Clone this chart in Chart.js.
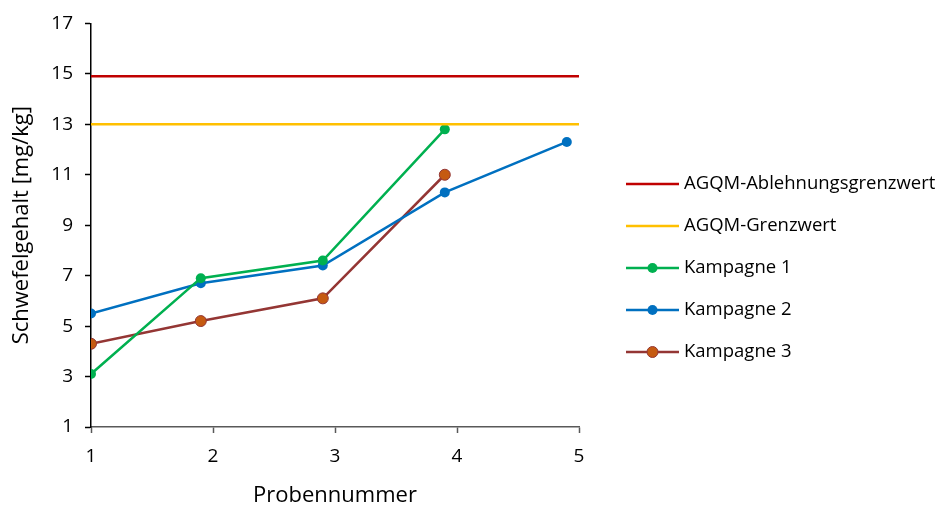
<!DOCTYPE html>
<html><head><meta charset="utf-8">
<script src="https://cdn.jsdelivr.net/npm/chart.js@4"></script>
<style>html,body{margin:0;padding:0;background:#fff}#wrap{width:941px;height:510px}</style>
</head><body><div id="wrap"><canvas id="c" width="941" height="510"></canvas></div>
<script>
const sampleNumbers1 = [1, 1.9, 2.9, 3.9];
const kampagne1 = [3.1, 6.9, 7.6, 12.8];
const sampleNumbers2 = [1, 1.9, 2.9, 3.9, 4.9];
const kampagne2 = [5.5, 6.7, 7.4, 10.3, 12.3];
const sampleNumbers3 = [1, 1.9, 2.9, 3.9];
const kampagne3 = [4.3, 5.2, 6.1, 11.0];
const limitX = [1, 5];
const ablehnungsgrenzwert = 14.9;
const grenzwert = 13;
const seriesNames = ['AGQM-Ablehnungsgrenzwert', 'AGQM-Grenzwert', 'Kampagne 1', 'Kampagne 2', 'Kampagne 3'];
const xTicks = [1, 2, 3, 4, 5];
const yTicks = [1, 3, 5, 7, 9, 11, 13, 15, 17];

const FONT = "'Open Sans', sans-serif";
const pts = (xs, ys) => xs.map((x, i) => ({x: x, y: ys[i]}));

const legendPlugin = {
  id: 'customLegend',
  afterDraw(chart) {
    const ctx = chart.ctx;
    const x0 = 626, x1 = 679, tx = 684;
    const ys = [184, 226, 268, 310, 352];
    chart.data.datasets.forEach((ds, i) => {
      const y = ys[i];
      ctx.save();
      ctx.strokeStyle = ds.borderColor;
      ctx.lineWidth = 2.5;
      ctx.beginPath(); ctx.moveTo(x0, y); ctx.lineTo(x1, y); ctx.stroke();
      if (ds.pointRadius > 0) {
        ctx.beginPath();
        ctx.arc((x0 + x1) / 2, y, ds.pointRadius, 0, Math.PI * 2);
        ctx.fillStyle = ds.pointBackgroundColor;
        ctx.fill();
        if (ds.pointBorderWidth > 0) {
          ctx.lineWidth = ds.pointBorderWidth;
          ctx.strokeStyle = ds.pointBorderColor;
          ctx.stroke();
        }
      }
      ctx.fillStyle = '#000';
      ctx.font = "18.5px " + FONT;
      ctx.textBaseline = 'middle';
      ctx.textAlign = 'left';
      ctx.fillText(ds.label, tx, y);
      ctx.restore();
    });
  }
};

new Chart(document.getElementById('c'), {
  type: 'line',
  data: {
    datasets: [
      {label: seriesNames[0], data: pts(limitX, [ablehnungsgrenzwert, ablehnungsgrenzwert]), borderColor: '#C00000', borderWidth: 2.5, pointRadius: 0},
      {label: seriesNames[1], data: pts(limitX, [grenzwert, grenzwert]), borderColor: '#FFC000', borderWidth: 2.5, pointRadius: 0},
      {label: seriesNames[2], data: pts(sampleNumbers1, kampagne1), borderColor: '#00B050', borderWidth: 2.5, pointRadius: 5, pointBackgroundColor: '#00B050', pointBorderWidth: 0, pointBorderColor: '#00B050'},
      {label: seriesNames[3], data: pts(sampleNumbers2, kampagne2), borderColor: '#0070C0', borderWidth: 2.5, pointRadius: 5, pointBackgroundColor: '#0070C0', pointBorderWidth: 0, pointBorderColor: '#0070C0'},
      {label: seriesNames[4], data: pts(sampleNumbers3, kampagne3), borderColor: '#943634', borderWidth: 2.5, pointRadius: 5.5, pointBackgroundColor: '#C55A11', pointBorderWidth: 1, pointBorderColor: '#943634'}
    ]
  },
  options: {
    responsive: false,
    animation: false,
    layout: {padding: {left: 0, right: 362, top: 21, bottom: 0}},
    plugins: {legend: {display: false}, tooltip: {enabled: false}},
    scales: {
      x: {
        type: 'linear', min: 1, max: 5,
        afterBuildTicks: (s) => { s.ticks = xTicks.map(v => ({value: v})); },
        afterFit: (s) => { s.height = 83; },
        grid: {display: true, drawOnChartArea: false, drawTicks: true, tickLength: 6, tickColor: '#595959', tickWidth: 1.5},
        border: {display: true, color: '#595959', width: 1.5},
        ticks: {color: '#000', font: {family: FONT, size: 19}, padding: 12},
        title: {display: true, text: 'Probennummer', color: '#000', font: {family: FONT, size: 22}, padding: {top: 4, bottom: 1}}
      },
      y: {
        min: 1, max: 17,
        afterBuildTicks: (s) => { s.ticks = yTicks.map(v => ({value: v})); },
        afterFit: (s) => { s.width = 91; },
        grid: {display: true, drawOnChartArea: false, drawTicks: true, tickLength: 6, tickColor: '#000', tickWidth: 1.5},
        border: {display: true, color: '#000', width: 1.5},
        ticks: {color: '#000', font: {family: FONT, size: 19}, padding: 12},
        title: {display: true, text: 'Schwefelgehalt [mg/kg]', color: '#000', font: {family: FONT, size: 22}, padding: {top: 9, bottom: 4}}
      }
    }
  },
  plugins: [legendPlugin]
});
</script></body></html>
